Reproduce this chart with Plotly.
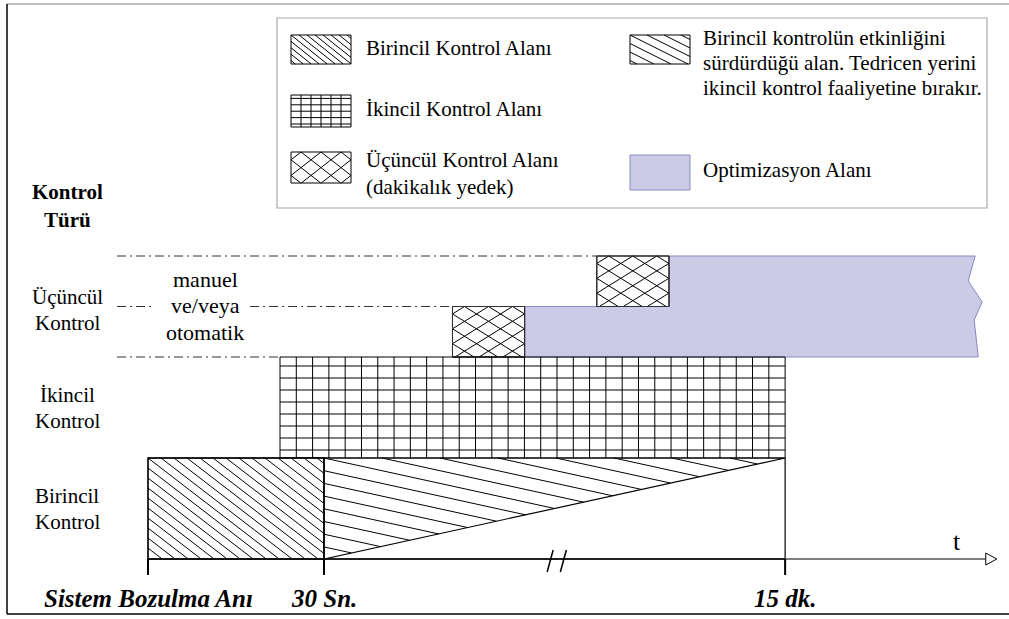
import math
import plotly.graph_objects as go

# ---------------- data (schematic units) ----------------
# x: schematic time units (0 = fault instant, 10 = 30 s, 36.2 = 15 min, axis broken in between)
# y: control levels (0 = time axis, 1 = primary top, 2 = secondary top, 2.5 / 3 = tertiary steps)
time_marks = [0, 10, 36.2]
time_labels = ["Sistem Bozulma Anı", "30 Sn.", "15 dk."]
primary_full = [0, 10]          # primary control fully active
primary_fade = [10, 36.2]       # primary control fading out
secondary_span = [7.5, 36.2]    # secondary control
tertiary_box1 = [17.3, 21.4]    # tertiary reserve step 1
tertiary_box2 = [25.5, 29.6]    # tertiary reserve step 2
optimization_end = 47.0
axis_end = 47.6
level_bounds = [0, 1, 2, 2.5, 3]
level_labels = [["Birincil", "Kontrol"], ["İkincil", "Kontrol"], ["Üçüncül", "Kontrol"]]
level_label_pos = [0.495, 1.5, 2.47]
manual_text = ["manuel", "ve/veya", "otomatik"]
legend_left = ["Birincil Kontrol Alanı", "İkincil Kontrol Alanı", "Üçüncül Kontrol Alanı", "(dakikalık yedek)"]
legend_right = ["Birincil kontrolün etkinliğini", "sürdürdüğü alan. Tedricen yerini",
                "ikincil kontrol faaliyetine bırakır.", "Optimizasyon Alanı"]

# ---------------- scale ----------------
W, H = 1009, 619
X0, UX = 148.0, 17.6
Y0, UY = 559.0, 101.0
FONT = "Liberation Serif, Times New Roman, serif"
PURPLE_FILL = "#cbcbe7"
PURPLE_LINE = "#8a8abf"


def X(u):
    return X0 + UX * u


def Y(l):
    return Y0 - UY * l


def du(px):
    return (px - X0) / UX


def dl(py):
    return (Y0 - py) / UY


def hatch(poly, slope, h, ax, ay):
    """lines y - ay = slope*(x - ax - k*h) clipped to convex polygon (pixel space)"""
    segs = []
    cs = [y - slope * x for x, y in poly]
    base = ay - slope * ax
    step = -slope * h
    k1, k2 = sorted([(min(cs) - base) / step, (max(cs) - base) / step])
    n = len(poly)
    for k in range(math.floor(k1) - 1, math.ceil(k2) + 2):
        c = base + step * k
        pts = []
        for i in range(n):
            p, q = poly[i], poly[(i + 1) % n]
            fp = p[1] - slope * p[0] - c
            fq = q[1] - slope * q[0] - c
            if fp == 0:
                pts.append(p)
            elif fp * fq < 0:
                t = fp / (fp - fq)
                pts.append((p[0] + t * (q[0] - p[0]), p[1] + t * (q[1] - p[1])))
        if len(pts) >= 2:
            pts.sort()
            a, b = pts[0], pts[-1]
            if math.hypot(b[0] - a[0], b[1] - a[1]) > 1.0:
                segs.append((a, b))
    return segs


def seg_path(segs):
    return " ".join(f"M{du(a[0]):.4f},{dl(a[1]):.4f} L{du(b[0]):.4f},{dl(b[1]):.4f}" for a, b in segs)


def poly_path(pts):
    s = " L".join(f"{du(x):.4f},{dl(y):.4f}" for x, y in pts)
    return "M" + s + " Z"


def rect_px(x1, y1, x2, y2):
    return [(x1, y1), (x2, y1), (x2, y2), (x1, y2)]


shapes = []


def add_path(path, color="black", width=1, fill=None, dash=None):
    d = dict(type="path", path=path, xref="x", yref="y",
             line=dict(color=color, width=width))
    if dash:
        d["line"]["dash"] = dash
    if fill:
        d["fillcolor"] = fill
    shapes.append(d)


def add_line_px(x1, y1, x2, y2, color="black", width=1, dash=None):
    d = dict(type="line", xref="x", yref="y", x0=du(x1), y0=dl(y1), x1=du(x2), y1=dl(y2),
             line=dict(color=color, width=width))
    if dash:
        d["line"]["dash"] = dash
    shapes.append(d)


def crosshatch(poly, h, s, ax, ay):
    return hatch(poly, s, h, ax, ay) + hatch(poly, -s, h, ax, ay)


def grid_segs(x1, y1, x2, y2, dx, dy, x_start, y_start):
    segs = []
    x = x_start
    while x < x2 - 1:
        if x > x1 + 1:
            segs.append(((x, y1), (x, y2)))
        x += dx
    y = y_start
    while y > y1 + 1:
        if y < y2 - 1:
            segs.append(((x1, y), (x2, y)))
        y -= dy
    return segs


# ---------------- frame ----------------
add_line_px(7, 4, W, 4, color="#aaaaaa", width=1.5)
add_line_px(7, 4, 7, 614, color="black", width=1.5)
add_line_px(7, 614, W, 614, color="black", width=1.5)

# ---------------- optimization area ----------------
b1x2 = X(tertiary_box1[1])
b2x1, b2x2 = X(tertiary_box2[0]), X(tertiary_box2[1])
xe = X(optimization_end)
opt_poly = [(b1x2, Y(level_bounds[2])), (b1x2, Y(level_bounds[3])), (b2x2, Y(level_bounds[3])),
            (b2x2, Y(level_bounds[4])), (xe, Y(level_bounds[4])),
            (xe - 7, Y(level_bounds[4]) + 25), (xe + 7, Y(level_bounds[4]) + 46),
            (xe - 1, Y(level_bounds[4]) + 64), (xe + 3, Y(level_bounds[2]))]
add_path(poly_path(opt_poly), color=PURPLE_LINE, width=1, fill=PURPLE_FILL)

# ---------------- dash-dot guide lines ----------------
dd = "9px,4px,2px,4px"
dash_start = -1.76
gap = [0.4, 5.8]
add_line_px(X(dash_start), Y(level_bounds[4]), X(tertiary_box2[0]), Y(level_bounds[4]), color="#333", width=1, dash=dd)
add_line_px(X(dash_start), Y(level_bounds[3]), X(gap[0]), Y(level_bounds[3]), color="#333", width=1, dash=dd)
add_line_px(X(gap[1]), Y(level_bounds[3]), X(tertiary_box1[0]), Y(level_bounds[3]), color="#333", width=1, dash=dd)
add_line_px(X(dash_start), Y(level_bounds[2]), X(secondary_span[0]), Y(level_bounds[2]), color="#333", width=1, dash=dd)

# ---------------- tertiary boxes ----------------
for span, lo, hi in [(tertiary_box1, level_bounds[2], level_bounds[3]),
                     (tertiary_box2, level_bounds[3], level_bounds[4])]:
    x1, x2, y1, y2 = X(span[0]), X(span[1]), Y(hi), Y(lo)
    poly = rect_px(x1, y1, x2, y2)
    add_path(poly_path(poly), color="black", width=1, fill="white")
    add_path(seg_path(crosshatch(poly, 24, 0.62, x1 + 12, y1)), color="black", width=1)
    add_path(poly_path(poly), color="#333", width=1)

# ---------------- secondary grid ----------------
sx1, sx2 = X(secondary_span[0]), X(secondary_span[1])
sy1, sy2 = Y(level_bounds[2]), Y(level_bounds[1])
ncols = 31
add_path(seg_path(grid_segs(sx1, sy1, sx2, sy2, (sx2 - sx1) / ncols, 12, sx1, sy2 - 8)), color="black", width=1)
add_path(poly_path(rect_px(sx1, sy1, sx2, sy2)), color="black", width=1)

# ---------------- primary box ----------------
px1, px2, py1, py2 = X(primary_full[0]), X(primary_full[1]), Y(level_bounds[1]), Y(level_bounds[0])
pbox = rect_px(px1, py1, px2, py2)
add_path(poly_path(pbox), color="black", width=1, fill="white")
add_path(seg_path(hatch(pbox, 0.77, 13, px1, py1)), color="black", width=1)
add_path(poly_path(pbox), color="black", width=1.3)

# ---------------- primary fading triangle ----------------
tx1, tx2 = X(primary_fade[0]), X(primary_fade[1])
tri = [(tx1, py1), (tx2, py1), (tx1, py2)]
tslope = (py2 - py1) / (tx2 - tx1)
add_path(seg_path(hatch(tri, tslope, 58, tx1, py1)), color="black", width=1)
add_path(poly_path(tri), color="black", width=1.2)
add_line_px(tx2, py1, tx2, py2, color="black", width=1.2)

# ---------------- time axis ----------------
add_line_px(X(time_marks[0]), Y(0), X(axis_end), Y(0), color="#555", width=1.5)
add_line_px(X(time_marks[0]), Y(0), X(time_marks[2]), Y(0), color="black", width=1.5)
ax_end = X(axis_end)
add_path(poly_path([(ax_end, Y(0) - 6), (ax_end + 11, Y(0)), (ax_end, Y(0) + 6)]), color="black", width=1, fill="white")
for tm in time_marks:
    add_line_px(X(tm), Y(0), X(tm), Y(0) + 16, color="black", width=2)
brk = 22.85
for off in [0, 0.75]:
    bx = X(brk + off)
    add_line_px(bx - 3, Y(0) + 13, bx + 3, Y(0) - 9, color="black", width=1.5)

# ---------------- legend ----------------
add_path(poly_path(rect_px(277, 18, 987, 208)), color="#aaaaaa", width=1.2, fill="white")
# swatch 1: primary
sw = rect_px(291, 35, 351, 64)
add_path(seg_path(hatch(sw, 0.8, 8, 291, 35)), color="black", width=1)
add_path(poly_path(sw), color="black", width=1)
# swatch 2: grid
sw = rect_px(291, 95, 351, 127)
add_path(seg_path(grid_segs(291, 95, 351, 127, 10, 6.4, 291, 127 - 3)), color="black", width=1)
add_path(poly_path(sw), color="black", width=1)
# swatch 3: crosshatch
sw = rect_px(291, 152, 351, 183)
add_path(seg_path(crosshatch(sw, 20, 0.78, 301, 152)), color="black", width=1)
add_path(poly_path(sw), color="black", width=1)
# swatch 4: fading primary
sw = rect_px(630, 35, 690, 64)
add_path(seg_path(hatch(sw, 0.5, 17, 630, 35)), color="black", width=1)
add_path(poly_path(sw), color="black", width=1)
# swatch 5: optimization
sw = rect_px(630, 155, 690, 190)
add_path(poly_path(sw), color=PURPLE_LINE, width=1, fill=PURPLE_FILL)

# ---------------- annotations ----------------
ann = []


def txt(x, y, s, size=17, anchor="center", bold=False, italic=False):
    if bold:
        s = f"<b>{s}</b>"
    if italic:
        s = f"<i>{s}</i>"
    ann.append(dict(x=du(x), y=dl(y), xref="x", yref="y", text=s, showarrow=False,
                    xanchor=anchor, yanchor="middle", font=dict(family=FONT, size=size, color="black")))


ly = [48, 109, 160, 187]
for s, y in zip(legend_left, ly):
    txt(364, y, s, 21, anchor="left")
ry = [38, 63, 88, 170]
for s, y in zip(legend_right, ry):
    txt(701, y, s, 21, anchor="left")

txt(67, 192, "Kontrol", 21, bold=True)
txt(67, 220, "Türü", 21, bold=True)
for lab, lvl in zip(level_labels, level_label_pos):
    yc = Y(lvl)
    txt(67, yc - 13, lab[0], 21)
    txt(67, yc + 13, lab[1], 21)
for s, y in zip(manual_text, [279, 305, 332]):
    txt(X(3.24), y, s, 22)

txt(957, 541, "t", 26)
for tm, lab in zip(time_marks, time_labels):
    txt(X(tm), 598, lab, 25, bold=True, italic=True)

fig = go.Figure()
fig.add_trace(go.Scatter(x=time_marks, y=[0] * len(time_marks), mode="markers",
                         marker=dict(size=1, color="rgba(0,0,0,0)"), hoverinfo="skip", showlegend=False))
fig.update_layout(
    width=W, height=H, margin=dict(l=0, r=0, t=0, b=0),
    paper_bgcolor="white", plot_bgcolor="white",
    xaxis=dict(range=[du(0), du(W)], visible=False, fixedrange=True),
    yaxis=dict(range=[dl(H), dl(0)], visible=False, fixedrange=True),
    shapes=shapes, annotations=ann, showlegend=False,
)
fig.write_html("out.html", config={"displayModeBar": False},
               post_script="document.body.style.margin='0px';document.body.style.overflow='hidden';")
